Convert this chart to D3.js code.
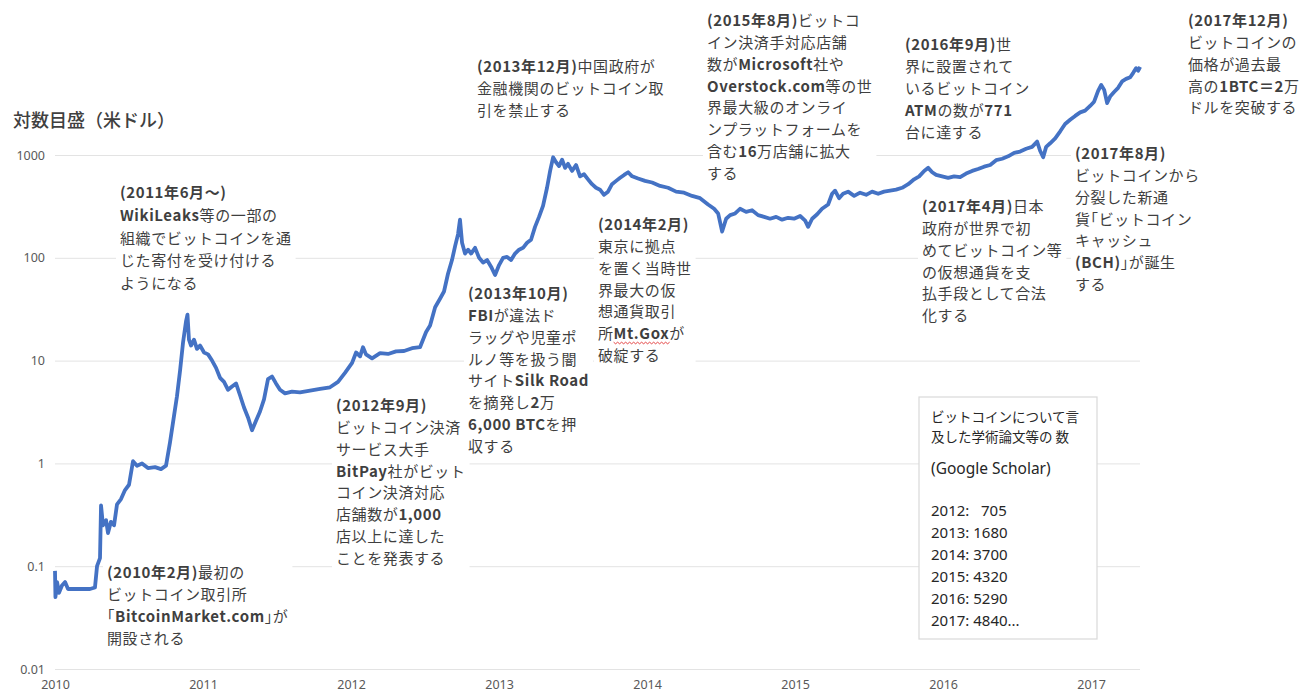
<!DOCTYPE html>
<html><head><meta charset="utf-8">
<script src="https://cdn.jsdelivr.net/npm/d3@7"></script>
<style>body{margin:0;background:#fff}svg{display:block}</style>
</head><body>
<svg id="c" width="1311" height="692"></svg>
<script>
// ---------- DATA ----------
const yearTicks = [2010, 2011, 2012, 2013, 2014, 2015, 2016, 2017];
const valueTicks = [0.01, 0.1, 1, 10, 100, 1000];
const valueTickLabels = ["0.01", "0.1", "1", "10", "100", "1000"];
const yAxisTitle = "対数目盛（米ドル）";

// price series (USD, log scale), x in the chart's axis years
const priceYears = [
 2010.000,2010.003,2010.014,2010.027,2010.047,2010.068,2010.088,2010.115,2010.169,2010.236,2010.270,2010.284,2010.304,2010.311,2010.324,2010.345,2010.358,2010.378,2010.399,2010.419,2010.446,2010.473,2010.500,2010.527,2010.554,2010.588,2010.628,2010.676,2010.716,2010.750,2010.777,2010.804,2010.824,2010.845,2010.865,2010.885,2010.895,2010.905,2010.919,2010.939,2010.959,2010.980,
 2011.007,2011.034,2011.061,2011.088,2011.115,2011.142,2011.169,2011.196,2011.223,2011.250,2011.277,2011.304,2011.331,2011.358,2011.385,2011.412,2011.439,2011.466,2011.493,2011.520,2011.554,2011.601,2011.655,2011.723,2011.791,2011.858,2011.912,2011.959,
 2012.007,2012.034,2012.061,2012.081,2012.101,2012.142,2012.196,2012.250,2012.304,2012.358,2012.412,2012.466,2012.507,2012.534,2012.568,2012.601,2012.628,2012.655,2012.682,2012.703,2012.723,2012.736,2012.750,2012.770,2012.791,2012.811,2012.838,2012.865,2012.892,2012.919,2012.946,2012.973,
 2013.000,2013.027,2013.054,2013.081,2013.108,2013.135,2013.162,2013.189,2013.216,2013.243,2013.270,2013.297,2013.324,2013.345,2013.365,2013.385,2013.405,2013.426,2013.446,2013.466,2013.493,2013.520,2013.547,2013.574,2013.601,2013.628,2013.655,2013.682,2013.709,2013.736,2013.763,2013.791,2013.818,2013.845,2013.872,2013.899,2013.939,2013.986,
 2014.034,2014.088,2014.142,2014.196,2014.250,2014.304,2014.358,2014.412,2014.453,2014.480,2014.507,2014.534,2014.561,2014.595,2014.628,2014.669,2014.709,2014.750,2014.791,2014.831,2014.872,2014.912,2014.953,2014.993,
 2015.034,2015.068,2015.088,2015.115,2015.149,2015.182,2015.223,2015.250,2015.270,2015.297,2015.324,2015.358,2015.399,2015.439,2015.480,2015.520,2015.561,2015.601,2015.642,2015.682,2015.723,2015.764,2015.804,2015.838,2015.872,2015.899,2015.926,2015.953,2015.993,
 2016.034,2016.074,2016.115,2016.155,2016.196,2016.236,2016.277,2016.318,2016.358,2016.399,2016.439,2016.480,2016.520,2016.561,2016.601,2016.635,2016.655,2016.676,2016.696,2016.723,2016.757,2016.791,2016.824,2016.858,2016.892,2016.926,2016.959,2016.993,
 2017.020,2017.047,2017.068,2017.088,2017.108,2017.128,2017.155,2017.182,2017.209,2017.236,2017.264,2017.284,2017.304,2017.318,2017.331
];
const priceValues = [
 0.09,0.05,0.07,0.055,0.065,0.07,0.06,0.06,0.06,0.06,0.062,0.1,0.12,0.39,0.25,0.28,0.21,0.27,0.25,0.40,0.45,0.55,0.62,1.05,0.95,1.0,0.90,0.92,0.88,0.95,1.6,2.9,4.5,8,15,24,28,16,14,16,13,14,
 12,11.5,10,8.5,6.8,6.2,5.2,5.6,6.0,4.6,3.5,2.8,2.1,2.6,3.2,4.2,6.6,7.0,6.0,5.2,4.8,5.0,4.9,5.1,5.3,5.5,6.2,7.6,
 9.5,12,11,13.5,11.5,10.5,11.8,11.6,12.3,12.4,13.2,13.5,19,22,33,40,47,70,95,130,170,235,140,110,120,110,125,100,90,95,82,68,
 85,100,102,95,110,120,125,140,150,200,250,320,480,700,950,850,780,900,750,820,700,800,620,650,580,520,480,460,410,440,520,560,600,640,680,620,590,560,
 540,500,480,440,430,400,380,330,300,270,180,240,260,270,300,280,290,260,250,240,250,235,245,240,
 255,230,200,240,265,300,330,420,450,380,420,440,400,430,410,440,420,440,450,460,480,520,580,620,700,750,680,640,620,
 600,620,610,660,700,730,770,800,890,920,970,1050,1080,1150,1200,1350,1100,950,1200,1300,1450,1700,2000,2200,2400,2600,2700,3000,
 3300,4200,4800,4300,3200,3700,4100,4500,5200,5500,5700,6300,7000,6600,7200
];

const annotationTexts = [
 ["(2010年2月)最初の","ビットコイン取引所","「BitcoinMarket.com」が","開設される"],
 ["(2011年6月～)","WikiLeaks等の一部の","組織でビットコインを通","じた寄付を受け付ける","ようになる"],
 ["(2012年9月)","ビットコイン決済","サービス大手","BitPay社がビット","コイン決済対応","店舗数が1,000","店以上に達した","ことを発表する"],
 ["(2013年10月)","FBIが違法ド","ラッグや児童ポ","ルノ等を扱う闇","サイトSilk Road","を摘発し2万","6,000 BTCを押","収する"],
 ["(2013年12月)中国政府が","金融機関のビットコイン取","引を禁止する"],
 ["(2014年2月)","東京に拠点","を置く当時世","界最大の仮","想通貨取引","所Mt.Goxが","破綻する"],
 ["(2015年8月)ビットコ","イン決済手対応店舗","数がMicrosoft社や","Overstock.com等の世","界最大級のオンライ","ンプラットフォームを","含む16万店舗に拡大","する"],
 ["(2016年9月)世","界に設置されて","いるビットコイン","ATMの数が771","台に達する"],
 ["(2017年4月)日本","政府が世界で初","めてビットコイン等","の仮想通貨を支","払手段として合法","化する"],
 ["(2017年8月)","ビットコインから","分裂した新通","貨「ビットコイン","キャッシュ","(BCH)」が誕生","する"],
 ["(2017年12月)","ビットコインの","価格が過去最","高の1BTC＝2万","ドルを突破する"]
];

const scholarTitle = ["ビットコインについて言", "及した学術論文等の 数"];
const scholarSource = "(Google Scholar)";
const scholarYears = ["2012", "2013", "2014", "2015", "2016", "2017"];
const scholarCounts = ["  705", "1680", "3700", "4320", "5290", "4840..."];

// ---------- LAYOUT (pixels) ----------
const annotationLayout = [
 {x:107, y:573, lh:21.8},
 {x:120, y:193, lh:22.7},
 {x:336, y:406, lh:21.8},
 {x:468, y:294, lh:21.8},
 {x:477, y:67,  lh:21.8},
 {x:598, y:225, lh:21.8},
 {x:707, y:21,  lh:21.8},
 {x:905, y:45,  lh:22},
 {x:922, y:207, lh:21.8},
 {x:1075,y:154, lh:21.8},
 {x:1188,y:21,  lh:21.8}
];

const svg = d3.select("#c");
const x = d3.scaleLinear().domain([2010, 2017.33]).range([55, 1140]);
const y = d3.scaleLog().domain([0.01, 1000]).range([669, 155]);

// gridlines + y labels
const yAxis = svg.append("g").attr("transform","translate(55,0)")
  .call(d3.axisLeft(y).tickValues(valueTicks).tickFormat((d,i)=>valueTickLabels[i]).tickSize(-1085).tickPadding(10));
yAxis.select(".domain").remove();
yAxis.selectAll(".tick line").attr("stroke","#e3e3e3").attr("stroke-width",1);
yAxis.selectAll(".tick text").attr("fill","#595959").style("font-family","'Noto Sans','Liberation Sans',sans-serif").style("font-size","12.5px");

// x labels
const xAxis = svg.append("g").attr("transform","translate(0,669)")
  .call(d3.axisBottom(x).tickValues(yearTicks).tickFormat(d3.format("d")).tickSize(0).tickPadding(11));
xAxis.select(".domain").remove();
xAxis.selectAll(".tick text").attr("fill","#595959").style("font-family","'Noto Sans','Liberation Sans',sans-serif").style("font-size","12.5px");

// y axis title
svg.append("text").attr("x",13).attr("y",127).text(yAxisTitle)
  .attr("fill","#404040").style("font-family","'Noto Sans CJK JP',sans-serif").style("font-size","18px").style("font-weight","500");

const rectLayer = svg.append("g");
const lineLayer = svg.append("g");
const textLayer = svg.append("g");
const markLayer = svg.append("g");

const boldRe = /(\(\d{4}年[^)]*\)|[A-Za-z0-9.,=＝() ]+)/;
const squiggle = [];
annotationTexts.forEach((lines, i) => {
  const L = annotationLayout[i];
  const t = textLayer.append("text")
    .attr("fill","#3f3f3f")
    .style("font-family","'Noto Sans CJK JP',sans-serif")
    .style("font-size","15px")
    .style("letter-spacing","0.6px")
    .style("font-feature-settings","'halt' 1");
  lines.forEach((ln, j) => {
    const tl = t.append("tspan").attr("x", L.x).attr("y", L.y + j*L.lh + 5.2);
    ln.split(boldRe).filter(s=>s.length).forEach(seg => {
      const m = seg.match(boldRe);
      const b = m && m[0] === seg;
      const sp = tl.append("tspan").text(seg).style("font-weight", b ? "700" : "400");
      if (seg.includes("Mt.Gox")) squiggle.push(sp.node());
    });
  });
  const bb = t.node().getBBox();
  rectLayer.append("rect").attr("x",bb.x-4).attr("y",bb.y-1).attr("width",bb.width+8).attr("height",bb.height+2).attr("fill","#fff");
});

// spell-check style red wavy underline under "Mt.Gox"
squiggle.forEach(n => {
  const p = n.getStartPositionOfChar(0);
  const w = n.getComputedTextLength();
  let d = `M${p.x},${p.y+3}`;
  for (let k = 0, s = 0; s < w; k++, s += 2) d += `L${p.x+s+2},${p.y + (k%2 ? 3 : 4.6)}`;
  markLayer.append("path").attr("d", d).attr("fill","none").attr("stroke","#e03030").attr("stroke-width",0.9);
});

// price line
const line = d3.line().x((d,i)=>x(priceYears[i])).y((d,i)=>y(priceValues[i])).curve(d3.curveLinear);
lineLayer.append("path").datum(priceValues).attr("d", line)
  .attr("fill","none").attr("stroke","#4472C4").attr("stroke-width",3.8).attr("stroke-linejoin","round");

// scholar box
const box = svg.append("g");
box.append("rect").attr("x",919).attr("y",397).attr("width",178).attr("height",242)
  .attr("fill","#fff").attr("stroke","#d9d9d9").attr("stroke-width",1.2);
scholarTitle.forEach((s,i)=>{
  box.append("text").attr("x",931).attr("y",422+i*20).text(s).attr("fill","#262626")
    .style("font-family","'Noto Sans CJK JP',sans-serif").style("font-size","13.5px");
});
box.append("text").attr("x",931).attr("y",474).text(scholarSource).attr("fill","#262626")
  .style("font-family","'Noto Sans','Liberation Sans',sans-serif").style("font-size","15.5px");
scholarYears.forEach((yr,i)=>{
  box.append("text").attr("x",931).attr("y",516+i*22).attr("xml:space","preserve").style("white-space","pre")
    .text(yr + ": " + scholarCounts[i]).attr("fill","#262626")
    .style("font-family","'Noto Sans','Liberation Sans',sans-serif").style("font-size","15px");
});
</script>
</body></html>
